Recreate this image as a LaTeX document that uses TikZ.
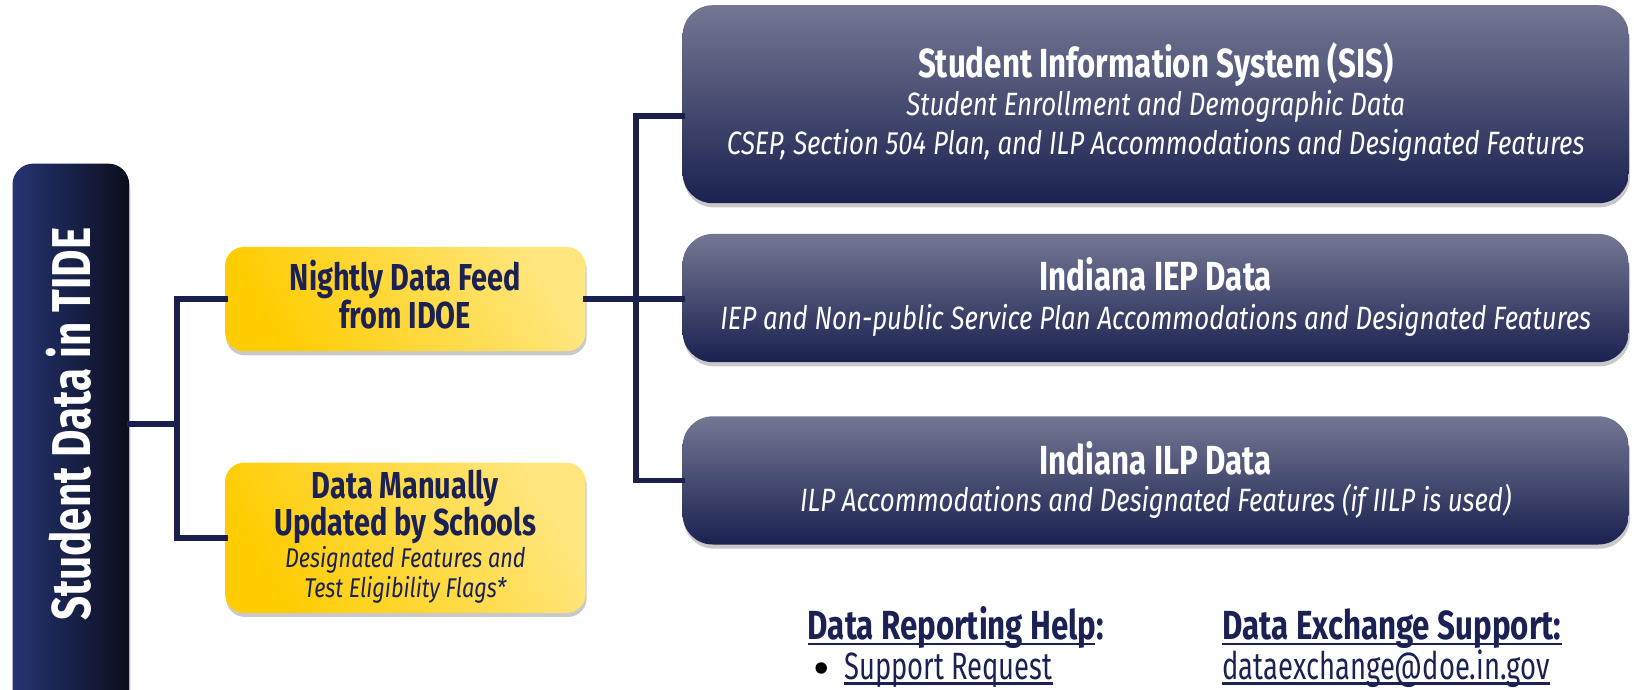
\documentclass[tikz,border=0pt]{standalone}
\usepackage{fontspec}
\usetikzlibrary{shadows}
\setmainfont{Fira Sans}
\newfontfamily\oswB{Fira Sans}[FakeStretch=0.77]
\newfontfamily\oswI{Fira Sans}[FakeStretch=0.80]
\newfontfamily\oswR{Fira Sans}[FakeStretch=0.72]
\newcommand\fsz[1]{\fontsize{#1}{#1}\selectfont}
\definecolor{navytxt}{HTML}{1B2152}
\definecolor{linec}{HTML}{1A1F4E}
\definecolor{navyTop}{HTML}{747793}
\definecolor{navyBot}{HTML}{1B2150}
\definecolor{leftL}{HTML}{263474}
\definecolor{leftR}{HTML}{0B0E1C}
\definecolor{yelD}{HTML}{FFCC00}
\definecolor{yelL}{HTML}{FFE67E}
\tikzset{
  shad/.style={drop shadow={shadow xshift=1pt, shadow yshift=-4pt, opacity=0.3, fill=black!70}},
  navybox/.style={shad, rectangle, rounded corners=29pt, top color=navyTop, bottom color=navyBot, draw=none, inner sep=0pt, minimum width=908pt},
  yelbox/.style={shad, rectangle, rounded corners=18pt, left color=yelD, right color=yelL, shading angle=120, draw=none, inner sep=0pt, minimum width=346pt},
  conn/.style={draw=linec, line width=5.5pt, line join=miter, line cap=rect},
  wtitle/.style={anchor=base, text=white, inner sep=0pt, font=\oswB\bfseries\fsz{39}},
  wital/.style={anchor=base, text=white, inner sep=0pt, font=\oswI\itshape\fsz{31}},
  ytitle/.style={anchor=base, text=navytxt, inner sep=0pt, font=\oswB\bfseries\fsz{36}},
  yital/.style={anchor=base, text=navytxt, inner sep=0pt, font=\oswI\itshape\fsz{26}},
  foothead/.style={anchor=base west, text=navytxt, inner sep=0pt, font=\oswB\bfseries\fsz{39}},
  footlink/.style={anchor=base west, text=navytxt, inner sep=0pt, font=\oswR\fsz{36.5}},
  uline/.style={draw=navytxt, line width=2.8pt}
}
\begin{document}
\begin{tikzpicture}[x=1pt,y=-1pt]
\useasboundingbox (0,0) rectangle (1568,662);

% left tall box
\node[shad, rectangle, rounded corners=20pt, left color=leftL, right color=leftR, draw=none, inner sep=0pt,
      minimum width=112pt, minimum height=560pt] (left) at (68,437) {};
\node[rotate=90, text=white, inner sep=0pt, font=\oswB\bfseries\fsz{52.5}] (lefttxt) at (66,407) {Student Data in TIDE};

% yellow boxes
\node[yelbox, minimum height=100pt] (y1) at (389,287) {};
\node[yelbox, minimum height=144pt] (y2) at (389,516) {};
\node[ytitle] (y1a) at (389,279) {Nightly Data Feed};
\node[ytitle] (y1b) at (389,315) {from IDOE};
\node[ytitle] (y2a) at (389,478) {Data Manually};
\node[ytitle] (y2b) at (389,514) {Updated by Schools};
\node[yital] (y2c) at (389,545) {Designated Features and};
\node[yital] (y2d) at (389,573) {Test Eligibility Flags*};

% navy boxes
\node[navybox, minimum height=190pt] (sis) at (1109,100) {};
\node[navybox, minimum height=123pt] (iep) at (1109,286) {};
\node[navybox, minimum height=123pt] (ilp) at (1109,461) {};
\node[wtitle] (sisa) at (1109,74) {Student Information System (SIS)};
\node[wital] (sisb) at (1109,111) {Student Enrollment and Demographic Data};
\node[wital] (sisc) at (1109,148) {CSEP, Section 504 Plan, and ILP Accommodations and Designated Features};
\node[wtitle] (iepa) at (1109,279) {Indiana IEP Data};
\node[wital] (iepb) at (1109,316) {IEP and Non-public Service Plan Accommodations and Designated Features};
\node[wtitle] (ilpa) at (1109,455) {Indiana ILP Data};
\node[wital] (ilpb) at (1109,491) {ILP Accommodations and Designated Features (if IILP is used)};

% connectors
\coordinate (j1) at (170,407);
\coordinate (j2) at (610,287);
\coordinate (sisin) at (655,111);
\draw[conn] (left.east |- j1) -- (j1);
\draw[conn] (y1.west) -| (j1) |- (y2.west);
\draw[conn] (y1.east) -- (j2);
\draw[conn] (sisin) -| (j2) |- (ilp.west);
\draw[conn] (j2) -- (j2 -| iep.west);

% footer
\node[foothead] (fh1) at (775,614) {Data Reporting Help:};
\node[footlink] (fl1) at (810,652) {Support Request};
\node[circle, fill=black, inner sep=0pt, minimum size=11pt] (bul) at (788,641) {};
\node[foothead] (fh2) at (1173,614) {Data Exchange Support:};
\node[footlink] (fl2) at (1173,652) {dataexchange@doe.in.gov};
\draw[uline] ([yshift=-4pt]fh1.base west) -- ([yshift=-4pt,xshift=-9pt]fh1.base east);
\draw[uline] ([yshift=-4pt]fh2.base west) -- ([yshift=-4pt]fh2.base east);
\draw[uline] ([yshift=-4pt]fl1.base west) -- ([yshift=-4pt]fl1.base east);
\draw[uline] ([yshift=-4pt]fl2.base west) -- ([yshift=-4pt]fl2.base east);
\end{tikzpicture}
\end{document}
